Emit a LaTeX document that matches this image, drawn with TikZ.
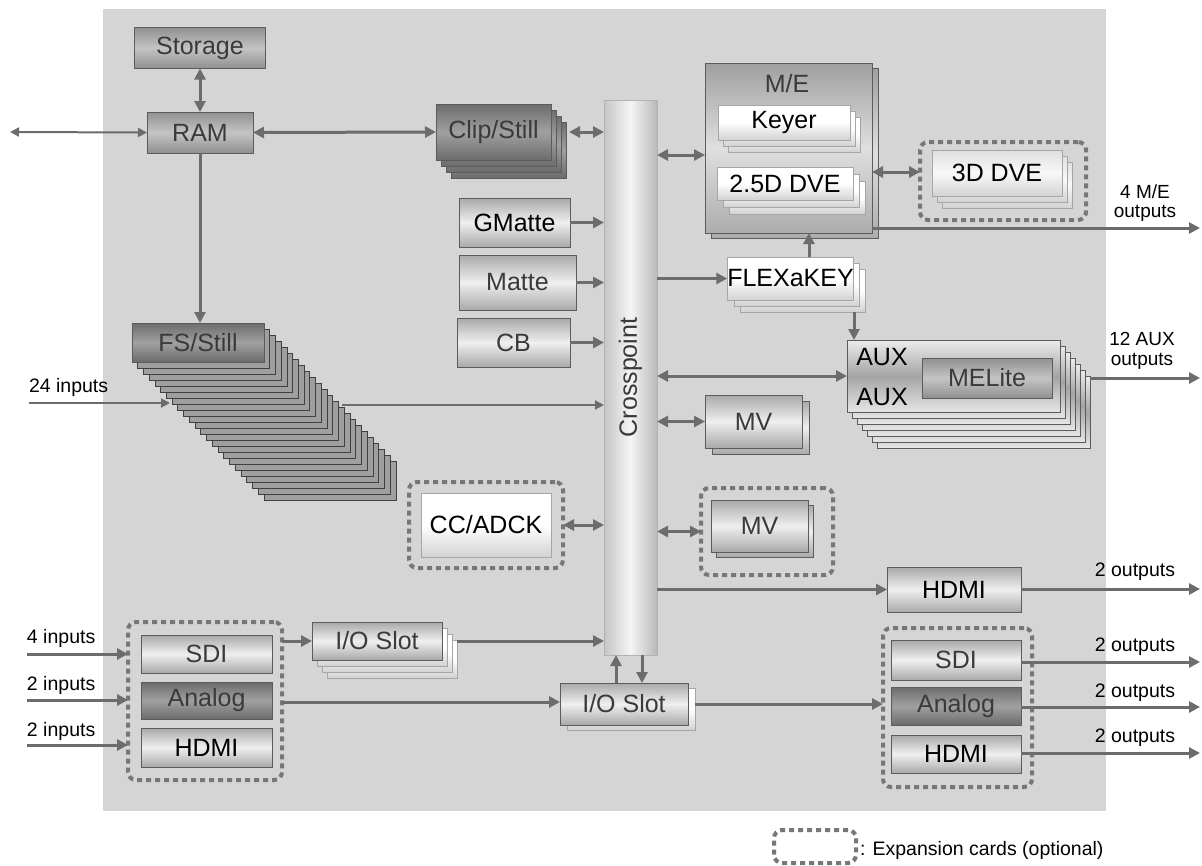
\documentclass[tikz,border=0pt]{standalone}
\usepackage{fontspec}
\setmainfont{Liberation Sans}
\usetikzlibrary{arrows.meta,calc}
\definecolor{cPanel}{HTML}{D5D5D5}
\definecolor{cArrow}{HTML}{6C6C6C}
\definecolor{cGroup}{HTML}{777777}
\definecolor{cText}{HTML}{3A3A3A}
\definecolor{cEdge}{HTML}{5C5C5C}
\definecolor{cMetalOut}{HTML}{A9A9A9}
\definecolor{cMetalIn}{HTML}{EFEFEF}
\definecolor{cMidOut}{HTML}{909090}
\definecolor{cMidIn}{HTML}{C4C4C4}
\definecolor{cDarkOut}{HTML}{6C6C6C}
\definecolor{cDarkIn}{HTML}{A0A0A0}
\definecolor{cWhiteOut}{HTML}{D2D2D2}
\definecolor{cBand}{HTML}{A4A4A4}
\begin{document}
\begin{tikzpicture}[x=1pt,y=-1pt,
  every node/.style={inner sep=0pt, outer sep=0pt},
  boxtxt/.style={font=\fontsize{25}{28}\selectfont, text=cText},
  lbl/.style={font=\fontsize{19.5}{20}\selectfont, text=black},
  lbltwo/.style={font=\fontsize{19}{19.5}\selectfont, text=black, align=center},
  metalfill/.style={draw=cEdge, line width=0.8pt, top color=cMetalOut, bottom color=cMetalOut, middle color=cMetalIn},
  midfill/.style={draw=cEdge, line width=0.8pt, top color=cMidOut, bottom color=cMidOut, middle color=cMidIn},
  darkfill/.style={draw=cEdge, line width=0.8pt, top color=cDarkOut, bottom color=cDarkOut, middle color=cDarkIn},
  whitefill/.style={draw=gray!70, line width=0.6pt, top color=white, bottom color=cWhiteOut, middle color=white},
  lightfill/.style={draw=gray!70, line width=0.6pt, top color=gray!25, bottom color=gray!35, middle color=gray!5},
  auxfill/.style={draw=cEdge, line width=0.8pt, top color=gray!15, bottom color=gray!20, middle color=cBand},
  fsfill/.style={draw=black!75, line width=0.9pt, fill=gray!75},
  mefill/.style={draw=cEdge, line width=0.8pt, top color=gray!75, bottom color=gray!65, middle color=gray!25},
  metalbox/.style={rectangle, metalfill, boxtxt},
  midbox/.style={rectangle, midfill, boxtxt},
  darkbox/.style={rectangle, darkfill, boxtxt},
  whitebox/.style={rectangle, whitefill, boxtxt, text=black},
  lightbox/.style={rectangle, lightfill, boxtxt, text=black},
  grp/.style={draw=cGroup, line width=4pt, dash pattern=on 5pt off 4pt, rounded corners=8pt},
  con/.style={draw=cArrow, line width=3pt, -{Triangle[length=11pt,width=11pt]}},
  dcon/.style={draw=cArrow, line width=3pt, {Triangle[length=11pt,width=11pt]}-{Triangle[length=11pt,width=11pt]}},
  thincon/.style={draw=cArrow, line width=2pt, -{Triangle[length=9pt,width=9pt]}},
  thindcon/.style={draw=cArrow, line width=2pt, {Triangle[length=9pt,width=9pt]}-{Triangle[length=9pt,width=9pt]}},
]
\useasboundingbox (0,0) rectangle (1202,865);
\fill[white] (0,0) rectangle (1202,865);
\fill[cPanel] (103,9) rectangle (1106,811);

% ---- left top: storage / RAM / Clip
\node[midbox, minimum width=131, minimum height=41] (storage) at (200,48) {Storage};
\node[midbox, minimum width=106, minimum height=41] (ram) at (200,132.5) {RAM};
\foreach \k in {3,2,1} \draw[darkfill, shift={(\k*5,\k*6)}] (436,104) rectangle (551,160);
\node[darkbox, minimum width=115, minimum height=56] (clip) at (493.5,132) {Clip/Still};

% ---- crosspoint
\node[rectangle, draw=gray!60, line width=0.8pt, left color=gray!45, right color=gray!55, middle color=gray!8, minimum width=53, minimum height=555] (xp) at (630.5,377.5) {};
\node[boxtxt, rotate=90] (xptxt) at (630.5,377.5) {Crosspoint};

% ---- M/E
\draw[mefill, shift={(6,5)}] (705,63) rectangle (872,233);
\node[rectangle, mefill, minimum width=167, minimum height=170] (me) at (788.5,148) {};
\node[boxtxt] (metitle) at (787,84) {M/E};
\foreach \k in {2,1} \draw[whitefill, shift={(\k*5,\k*6)}] (718,105) rectangle (850,140);
\node[whitebox, minimum width=132, minimum height=35] (keyer) at (784,122.5) {Keyer};
\foreach \k in {2,1} \draw[whitefill, shift={(\k*6,\k*7)}] (717,167) rectangle (853,200);
\node[whitebox, minimum width=136, minimum height=33] (dve25) at (785,183.5) {2.5D DVE};

% ---- 3D DVE
\node[grp, minimum width=166, minimum height=78] (dvegrp) at (1003,181) {};
\foreach \k in {2,1} \draw[lightfill, shift={(\k*5,\k*6)}] (932,150) rectangle (1062,196);
\node[lightbox, minimum width=130, minimum height=46] (dve3) at (997,173) {3D DVE};
\node[lbltwo] (meoutlbl) at (1145,203) {4 M/E\\outputs};

% ---- mattes
\node[metalbox, text=black, minimum width=111, minimum height=49] (gmatte) at (514.5,222.5) {GMatte};
\node[metalbox, minimum width=117, minimum height=55] (matte) at (517.5,282.5) {Matte};
\node[metalbox, minimum width=113, minimum height=49] (cb) at (513.5,342.5) {CB};

% ---- FLEXaKEY
\foreach \k in {2,1} \draw[whitefill, shift={(\k*6,\k*6)}] (728,257) rectangle (853,300);
\node[whitebox, minimum width=125, minimum height=43] (flexakey) at (790.5,278.5) {FLEXaKEY};

% ---- AUX
\foreach \k in {6,...,1} \draw[auxfill, shift={(\k*5,\k*6)}] (847,340) rectangle (1060,412);
\node[rectangle, auxfill, minimum width=213, minimum height=72] (aux) at (953.5,376) {};
\node[boxtxt, text=black] (auxa) at (882,357) {AUX};
\node[boxtxt, text=black] (auxb) at (882,397) {AUX};
\node[midbox, minimum width=130, minimum height=40] (melite) at (987,378) {MELite};
\node[lbltwo] (auxoutlbl) at (1142,351) {12 AUX\\outputs};

% ---- MV
\draw[metalfill, shift={(7,6)}] (705,395) rectangle (802,448);
\node[metalbox, minimum width=97, minimum height=53] (mv1) at (753.5,421.5) {MV};
\node[grp, minimum width=132, minimum height=87] (mvgrp) at (767,531.5) {};
\draw[metalfill, shift={(5,5)}] (711,500) rectangle (808,552);
\node[metalbox, minimum width=97, minimum height=52] (mv2) at (759.5,526) {MV};

% ---- CC/ADCK
\node[grp, minimum width=154, minimum height=86] (ccgrp) at (486,525) {};
\node[whitebox, minimum width=130, minimum height=64] (ccadck) at (486,525) {CC/ADCK};

% ---- FS/Still
\foreach \k in {23,...,1} \draw[fsfill, shift={(\k*5.74,\k*6)}] (132,323) rectangle (264,362);
\node[darkbox, minimum width=132, minimum height=39] (fs) at (198,342.5) {FS/Still};
\node[lbl, anchor=west] (in24) at (29,387) {24 inputs};

% ---- HDMI top + right group
\node[metalbox, text=black, minimum width=134, minimum height=45] (hdmi) at (954,589.5) {HDMI};
\node[grp, minimum width=149, minimum height=159] (rgrp) at (957.5,707.5) {};
\node[metalbox, minimum width=130, minimum height=40] (rsdi) at (956,660) {SDI};
\node[darkbox, minimum width=130, minimum height=38] (ranalog) at (956,706) {Analog};
\node[metalbox, text=black, minimum width=130, minimum height=38] (rhdmi) at (956,754) {HDMI};
\node[lbl] (o1) at (1135,572) {2 outputs};
\node[lbl] (o2) at (1135,647) {2 outputs};
\node[lbl] (o3) at (1135,693) {2 outputs};
\node[lbl] (o4) at (1135,738) {2 outputs};

% ---- left group
\node[grp, minimum width=154, minimum height=158] (lgrp) at (205,701) {};
\node[metalbox, minimum width=131, minimum height=38] (lsdi) at (206.5,654) {SDI};
\node[darkbox, minimum width=131, minimum height=37] (lanalog) at (206.5,700.5) {Analog};
\node[metalbox, text=black, minimum width=131, minimum height=39] (lhdmi) at (206.5,747.5) {HDMI};
\node[lbl, anchor=west] (i1) at (27,638) {4 inputs};
\node[lbl, anchor=west] (i2) at (27,685) {2 inputs};
\node[lbl, anchor=west] (i3) at (27,731) {2 inputs};

% ---- I/O slots
\foreach \k in {3,2,1} \draw[whitefill, shift={(\k*5,\k*6)}] (312,622) rectangle (442,660);
\node[metalbox, minimum width=130, minimum height=38] (io1) at (377,641) {I/O Slot};
\draw[whitefill, shift={(7,5)}] (560,683) rectangle (688,725);
\node[metalbox, minimum width=128, minimum height=42] (io2) at (624,704) {I/O Slot};

% ---- legend
\node[grp, minimum width=82, minimum height=33] (legbox) at (815,846.5) {};
\node[lbl, anchor=west, font=\fontsize{19.5}{22}\selectfont] (legtxt) at (860,850) {: Expansion cards (optional)};

% ---- coordinates for free ends
\coordinate (lft) at (10,132);
\coordinate (meout) at (1200,228);
\coordinate (auxout) at (1200,378);
\coordinate (hdout) at (1200,589);
\coordinate (sdout) at (1200,662);
\coordinate (anout) at (1200,707);
\coordinate (hmout) at (1200,753);
\coordinate (in24s) at (29,403);
\coordinate (in1s) at (27,654);
\coordinate (in2s) at (27,700);
\coordinate (in3s) at (27,745);

% ---- connectors
\draw[thindcon] (lft) -- (ram.west);
\draw[dcon] (storage.south) -- (ram.north);
\draw[dcon] (ram.east) -- (clip.west);
\draw[dcon] ([xshift=18pt]clip.east) -- (clip.east -| xp.west);
\draw[con] (ram.south) -- (ram.south |- fs.north);
\draw[dcon] (xp.east |- 0,155) -- (me.west |- 0,155);
\draw[dcon] (me.east |- 0,172) -- (dvegrp.west |- 0,172);
\draw[con] (me.east |- meout) -- (meout);
\draw[con] (gmatte.east) -- (gmatte.east -| xp.west);
\draw[con] (matte.east) -- (matte.east -| xp.west);
\draw[con] (cb.east) -- (cb.east -| xp.west);
\draw[con] (flexakey.west -| xp.east) -- (flexakey.west);
\draw[con] (flexakey.north -| 809,0) -- (me.south -| 809,0);
\draw[con] ([yshift=-12pt]flexakey.south -| 854,0) -- (aux.north -| 854,0);
\draw[dcon] (aux.west -| xp.east) -- (aux.west);
\draw[con] ([xshift=30pt]aux.east |- auxout) -- (auxout);
\draw[dcon] (mv1.west -| xp.east) -- (mv1.west);
\draw[dcon] (mvgrp.west -| xp.east) -- (mvgrp.west);
\draw[dcon] (ccgrp.east) -- (ccgrp.east -| xp.west);
\draw[thincon] (in24s) -- (170,403);
\draw[thincon] (342,405) -- (xp.west |- 0,405);
\draw[con] (hdmi.west -| xp.east) -- (hdmi.west);
\draw[con] (hdmi.east |- hdout) -- (hdout);
\draw[con] (rsdi.east |- sdout) -- (sdout);
\draw[con] (ranalog.east |- anout) -- (anout);
\draw[con] (rhdmi.east |- hmout) -- (hmout);
\draw[con] (in1s) -- (lgrp.west |- in1s);
\draw[con] (in2s) -- (lgrp.west |- in2s);
\draw[con] (in3s) -- (lgrp.west |- in3s);
\draw[con] (lgrp.east |- io1.west) -- (io1.west);
\draw[con] ([xshift=15pt]io1.east) -- (io1.east -| xp.west);
\draw[con] (lgrp.east |- 0,702) -- (io2.west |- 0,702);
\draw[con] ([xshift=7pt]io2.east) -- (rgrp.west |- io2.east);
\draw[con] (io2.north -| 616,0) -- (xp.south -| 616,0);
\draw[con] (xp.south -| 642,0) -- (io2.north -| 642,0);
\end{tikzpicture}
\end{document}
